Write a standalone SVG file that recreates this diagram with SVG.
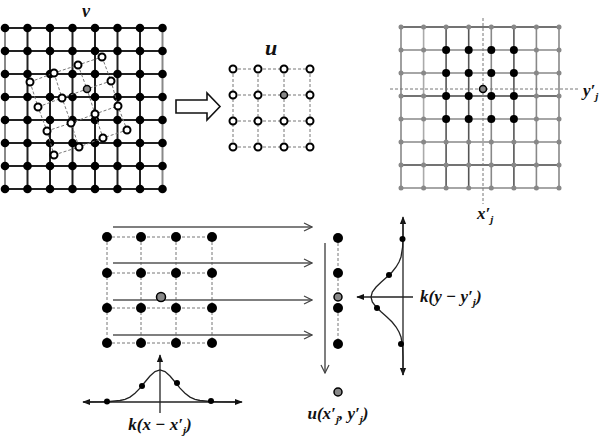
<svg xmlns="http://www.w3.org/2000/svg" width="600" height="439" viewBox="0 0 600 439">
<defs>
<style>
.lbl{font-family:"Liberation Serif","Times New Roman",serif;font-style:italic;font-weight:bold;fill:#111}
.g1 line{stroke:#222;stroke-width:2}
.dot{fill:#000}
.odot{fill:#fff;stroke:#000;stroke-width:2}
.gdot{fill:#888;stroke:#000;stroke-width:1.5}
.dash{stroke:#777;stroke-width:1;stroke-dasharray:3,2;fill:none}
.arr{stroke:#555;stroke-width:1.5;fill:none}
.ax{stroke:#222;stroke-width:1.3;fill:none}
</style>
<marker id="open" viewBox="0 0 10 10" refX="9" refY="5" markerWidth="10" markerHeight="10" markerUnits="userSpaceOnUse" orient="auto">
<path d="M1,1 L9,5 L1,9" fill="none" stroke="#444" stroke-width="1.2"/>
</marker>
<marker id="tri" viewBox="0 0 10 10" refX="9" refY="5" markerWidth="8" markerHeight="8" markerUnits="userSpaceOnUse" orient="auto">
<path d="M0,1 L10,5 L0,9 Z" fill="#111"/>
</marker>
<marker id="tris" viewBox="0 0 10 10" refX="1" refY="5" markerWidth="8" markerHeight="8" markerUnits="userSpaceOnUse" orient="auto">
<path d="M10,1 L0,5 L10,9 Z" fill="#111"/>
</marker>
</defs>
<rect width="600" height="439" fill="#fff"/>

<!-- Left grid v -->
<g id="gridV">
<g class="g1">
<line x1="5" y1="28" x2="162.5" y2="28"/><line x1="5" y1="51" x2="162.5" y2="51"/><line x1="5" y1="74" x2="162.5" y2="74"/><line x1="5" y1="97" x2="162.5" y2="97"/>
<line x1="5" y1="120" x2="162.5" y2="120"/><line x1="5" y1="143" x2="162.5" y2="143"/><line x1="5" y1="166" x2="162.5" y2="166"/><line x1="5" y1="189" x2="162.5" y2="189"/>
<line x1="5" y1="28" x2="5" y2="189" style="stroke:#888"/><line x1="27.5" y1="28" x2="27.5" y2="189"/><line x1="50" y1="28" x2="50" y2="189"/><line x1="72.5" y1="28" x2="72.5" y2="189"/>
<line x1="95" y1="28" x2="95" y2="189"/><line x1="117.5" y1="28" x2="117.5" y2="189"/><line x1="140" y1="28" x2="140" y2="189"/><line x1="162.5" y1="28" x2="162.5" y2="189" style="stroke:#888"/>
</g>
<g class="dot">
<circle cx="5" cy="28" r="4.3"/><circle cx="27.5" cy="28" r="4.3"/><circle cx="50" cy="28" r="4.3"/><circle cx="72.5" cy="28" r="4.3"/><circle cx="95" cy="28" r="4.3"/><circle cx="117.5" cy="28" r="4.3"/><circle cx="140" cy="28" r="4.3"/><circle cx="162.5" cy="28" r="4.3"/>
<circle cx="5" cy="51" r="4.3"/><circle cx="27.5" cy="51" r="4.3"/><circle cx="50" cy="51" r="4.3"/><circle cx="72.5" cy="51" r="4.3"/><circle cx="95" cy="51" r="4.3"/><circle cx="117.5" cy="51" r="4.3"/><circle cx="140" cy="51" r="4.3"/><circle cx="162.5" cy="51" r="4.3"/>
<circle cx="5" cy="74" r="4.3"/><circle cx="27.5" cy="74" r="4.3"/><circle cx="50" cy="74" r="4.3"/><circle cx="72.5" cy="74" r="4.3"/><circle cx="95" cy="74" r="4.3"/><circle cx="117.5" cy="74" r="4.3"/><circle cx="140" cy="74" r="4.3"/><circle cx="162.5" cy="74" r="4.3"/>
<circle cx="5" cy="97" r="4.3"/><circle cx="27.5" cy="97" r="4.3"/><circle cx="50" cy="97" r="4.3"/><circle cx="72.5" cy="97" r="4.3"/><circle cx="95" cy="97" r="4.3"/><circle cx="117.5" cy="97" r="4.3"/><circle cx="140" cy="97" r="4.3"/><circle cx="162.5" cy="97" r="4.3"/>
<circle cx="5" cy="120" r="4.3"/><circle cx="27.5" cy="120" r="4.3"/><circle cx="50" cy="120" r="4.3"/><circle cx="72.5" cy="120" r="4.3"/><circle cx="95" cy="120" r="4.3"/><circle cx="117.5" cy="120" r="4.3"/><circle cx="140" cy="120" r="4.3"/><circle cx="162.5" cy="120" r="4.3"/>
<circle cx="5" cy="143" r="4.3"/><circle cx="27.5" cy="143" r="4.3"/><circle cx="50" cy="143" r="4.3"/><circle cx="72.5" cy="143" r="4.3"/><circle cx="95" cy="143" r="4.3"/><circle cx="117.5" cy="143" r="4.3"/><circle cx="140" cy="143" r="4.3"/><circle cx="162.5" cy="143" r="4.3"/>
<circle cx="5" cy="166" r="4.3"/><circle cx="27.5" cy="166" r="4.3"/><circle cx="50" cy="166" r="4.3"/><circle cx="72.5" cy="166" r="4.3"/><circle cx="95" cy="166" r="4.3"/><circle cx="117.5" cy="166" r="4.3"/><circle cx="140" cy="166" r="4.3"/><circle cx="162.5" cy="166" r="4.3"/>
<circle cx="5" cy="189" r="4.3"/><circle cx="27.5" cy="189" r="4.3"/><circle cx="50" cy="189" r="4.3"/><circle cx="72.5" cy="189" r="4.3"/><circle cx="95" cy="189" r="4.3"/><circle cx="117.5" cy="189" r="4.3"/><circle cx="140" cy="189" r="4.3"/><circle cx="162.5" cy="189" r="4.3"/>
</g>
<g class="dash">
<polyline points="30,82 54,73 78,65 102,57"/><polyline points="38,107 62,98 87,89 111,81"/><polyline points="47,131 71,123 95,114 118,106"/><polyline points="54,155 79,147 103,138 127,130"/>
<polyline points="30,82 38,107 47,131 54,155"/><polyline points="54,73 62,98 71,123 79,147"/><polyline points="78,65 87,89 95,114 103,138"/><polyline points="102,57 111,81 118,106 127,130"/>
</g>
<g class="odot">
<circle cx="30" cy="82" r="3.5"/><circle cx="54" cy="73" r="3.5"/><circle cx="78" cy="65" r="3.5"/><circle cx="102" cy="57" r="3.5"/>
<circle cx="38" cy="107" r="3.5"/><circle cx="62" cy="98" r="3.5"/><circle cx="111" cy="81" r="3.5"/>
<circle cx="47" cy="131" r="3.5"/><circle cx="71" cy="123" r="3.5"/><circle cx="95" cy="114" r="3.5"/><circle cx="118" cy="106" r="3.5"/>
<circle cx="54" cy="155" r="3.5"/><circle cx="79" cy="147" r="3.5"/><circle cx="103" cy="138" r="3.5"/><circle cx="127" cy="130" r="3.5"/>
</g>
<circle class="gdot" cx="87" cy="89" r="3.5"/>
<text class="lbl" x="86" y="17" font-size="18" text-anchor="middle">v</text>
</g>

<!-- Hollow arrow -->
<g id="bigArrow">
<polygon points="176,100 207,100 207,93 220,106.5 207,120 207,113 176,113" fill="#fff" stroke="#111" stroke-width="1.6"/>
</g>

<!-- u grid -->
<g id="gridU">
<g class="dash">
<polyline points="233,69 310,69"/><polyline points="233,95 310,95"/><polyline points="233,121 310,121"/><polyline points="233,147 310,147"/>
<polyline points="233,69 233,147"/><polyline points="258,69 258,147"/><polyline points="284,69 284,147"/><polyline points="310,69 310,147"/>
</g>
<g class="odot">
<circle cx="233" cy="69" r="3.5"/><circle cx="258" cy="69" r="3.5"/><circle cx="284" cy="69" r="3.5"/><circle cx="310" cy="69" r="3.5"/>
<circle cx="233" cy="95" r="3.5"/><circle cx="258" cy="95" r="3.5"/><circle cx="310" cy="95" r="3.5"/>
<circle cx="233" cy="121" r="3.5"/><circle cx="258" cy="121" r="3.5"/><circle cx="284" cy="121" r="3.5"/><circle cx="310" cy="121" r="3.5"/>
<circle cx="233" cy="147" r="3.5"/><circle cx="258" cy="147" r="3.5"/><circle cx="284" cy="147" r="3.5"/><circle cx="310" cy="147" r="3.5"/>
</g>
<circle class="gdot" cx="284" cy="95" r="3.5"/>
<text class="lbl" x="271" y="55" font-size="22" text-anchor="middle">u</text>
</g>

<!-- Right grid -->
<g id="gridR">
<g stroke="#888" stroke-width="1.6">
<line x1="401" y1="27" x2="559" y2="27" stroke="#444"/><line x1="401" y1="50" x2="559" y2="50"/><line x1="401" y1="73" x2="559" y2="73"/><line x1="401" y1="96" x2="559" y2="96" stroke="#444"/>
<line x1="401" y1="119" x2="559" y2="119"/><line x1="401" y1="142" x2="559" y2="142"/><line x1="401" y1="165" x2="559" y2="165" stroke="#444"/><line x1="401" y1="188" x2="559" y2="188"/>
<line x1="401" y1="27" x2="401" y2="188"/><line x1="423.6" y1="27" x2="423.6" y2="188" stroke="#aaa"/><line x1="446.1" y1="27" x2="446.1" y2="188" stroke="#555"/><line x1="468.7" y1="27" x2="468.7" y2="188" stroke="#555"/>
<line x1="491.3" y1="27" x2="491.3" y2="188"/><line x1="513.9" y1="27" x2="513.9" y2="188" stroke="#555"/><line x1="536.4" y1="27" x2="536.4" y2="188"/><line x1="559" y1="27" x2="559" y2="188"/>
</g>
<g fill="#888">
<circle cx="401" cy="27" r="2.5"/><circle cx="423.6" cy="27" r="2.5"/><circle cx="446.1" cy="27" r="2.5"/><circle cx="468.7" cy="27" r="2.5"/><circle cx="491.3" cy="27" r="2.5"/><circle cx="513.9" cy="27" r="2.5"/><circle cx="536.4" cy="27" r="2.5"/><circle cx="559" cy="27" r="2.5"/>
<circle cx="401" cy="50" r="2.5"/><circle cx="423.6" cy="50" r="2.5"/><circle cx="536.4" cy="50" r="2.5"/><circle cx="559" cy="50" r="2.5"/>
<circle cx="401" cy="73" r="2.5"/><circle cx="423.6" cy="73" r="2.5"/><circle cx="536.4" cy="73" r="2.5"/><circle cx="559" cy="73" r="2.5"/>
<circle cx="401" cy="96" r="2.5"/><circle cx="423.6" cy="96" r="2.5"/><circle cx="536.4" cy="96" r="2.5"/><circle cx="559" cy="96" r="2.5"/>
<circle cx="401" cy="119" r="2.5"/><circle cx="423.6" cy="119" r="2.5"/><circle cx="536.4" cy="119" r="2.5"/><circle cx="559" cy="119" r="2.5"/>
<circle cx="401" cy="142" r="2.5"/><circle cx="423.6" cy="142" r="2.5"/><circle cx="446.1" cy="142" r="2.5"/><circle cx="468.7" cy="142" r="2.5"/><circle cx="491.3" cy="142" r="2.5"/><circle cx="513.9" cy="142" r="2.5"/><circle cx="536.4" cy="142" r="2.5"/><circle cx="559" cy="142" r="2.5"/>
<circle cx="401" cy="165" r="2.5"/><circle cx="423.6" cy="165" r="2.5"/><circle cx="446.1" cy="165" r="2.5"/><circle cx="468.7" cy="165" r="2.5"/><circle cx="491.3" cy="165" r="2.5"/><circle cx="513.9" cy="165" r="2.5"/><circle cx="536.4" cy="165" r="2.5"/><circle cx="559" cy="165" r="2.5"/>
<circle cx="401" cy="188" r="2.5"/><circle cx="423.6" cy="188" r="2.5"/><circle cx="446.1" cy="188" r="2.5"/><circle cx="468.7" cy="188" r="2.5"/><circle cx="491.3" cy="188" r="2.5"/><circle cx="513.9" cy="188" r="2.5"/><circle cx="536.4" cy="188" r="2.5"/><circle cx="559" cy="188" r="2.5"/>
</g>
<g class="dot">
<circle cx="446.1" cy="50" r="4"/><circle cx="468.7" cy="50" r="4"/><circle cx="491.3" cy="50" r="4"/><circle cx="513.9" cy="50" r="4"/>
<circle cx="446.1" cy="73" r="4"/><circle cx="468.7" cy="73" r="4"/><circle cx="491.3" cy="73" r="4"/><circle cx="513.9" cy="73" r="4"/>
<circle cx="446.1" cy="96" r="4"/><circle cx="468.7" cy="96" r="4"/><circle cx="491.3" cy="96" r="4"/><circle cx="513.9" cy="96" r="4"/>
<circle cx="446.1" cy="119" r="4"/><circle cx="468.7" cy="119" r="4"/><circle cx="491.3" cy="119" r="4"/><circle cx="513.9" cy="119" r="4"/>
</g>
<line class="dash" x1="483" y1="18" x2="483" y2="204"/>
<line class="dash" x1="390" y1="89" x2="580" y2="89"/>
<circle class="gdot" cx="483" cy="89" r="3.5"/>
<text class="lbl" x="583" y="96" font-size="17">y′<tspan font-size="11" dy="4">j</tspan></text>
<text class="lbl" x="477" y="219" font-size="17">x′<tspan font-size="11" dy="4">j</tspan></text>
</g>

<!-- Bottom grid -->
<g id="gridB">
<g class="dash">
<polyline points="107,237 212,237"/><polyline points="107,273 212,273"/><polyline points="107,308 212,308"/><polyline points="107,343 212,343"/>
<polyline points="107,237 107,343"/><polyline points="141,237 141,343"/><polyline points="176,237 176,343"/><polyline points="212,237 212,343"/>
</g>
<g class="dot">
<circle cx="107" cy="237" r="5"/><circle cx="141" cy="237" r="5"/><circle cx="176" cy="237" r="5"/><circle cx="212" cy="237" r="5"/>
<circle cx="107" cy="273" r="5"/><circle cx="141" cy="273" r="5"/><circle cx="176" cy="273" r="5"/><circle cx="212" cy="273" r="5"/>
<circle cx="107" cy="308" r="5"/><circle cx="141" cy="308" r="5"/><circle cx="176" cy="308" r="5"/><circle cx="212" cy="308" r="5"/>
<circle cx="107" cy="343" r="5"/><circle cx="141" cy="343" r="5"/><circle cx="176" cy="343" r="5"/><circle cx="212" cy="343" r="5"/>
</g>
</g>

<!-- connectors -->
<g id="connectors">
<line class="arr" x1="113" y1="227" x2="312" y2="227" marker-end="url(#open)"/>
<line class="arr" x1="113" y1="263" x2="312" y2="263" marker-end="url(#open)"/>
<line class="arr" x1="113" y1="300" x2="312" y2="300" marker-end="url(#open)"/>
<line class="arr" x1="113" y1="335" x2="312" y2="335" marker-end="url(#open)"/>
<line class="arr" x1="325" y1="243" x2="325" y2="373" marker-end="url(#open)"/>
</g>
<circle class="gdot" cx="161" cy="297" r="4.5"/>

<!-- column -->
<g id="column">
<line class="dash" x1="338" y1="238" x2="338" y2="344"/>
<g class="dot">
<circle cx="338" cy="238" r="5"/><circle cx="338" cy="273" r="5"/><circle cx="338" cy="308" r="5"/><circle cx="338" cy="344" r="5"/>
</g>
<circle class="gdot" cx="338" cy="297" r="4"/>
<circle class="gdot" cx="338" cy="392" r="4"/>
<text class="lbl" x="338" y="419" font-size="17" text-anchor="middle">u(x′<tspan font-size="11" dy="4">j</tspan><tspan dy="-4">, y′</tspan><tspan font-size="11" dy="4">j</tspan><tspan dy="-4">)</tspan></text>
</g>

<!-- right kernel -->
<g id="kernelY">
<line class="ax" x1="403" y1="375" x2="403" y2="217" marker-start="url(#tris)" marker-end="url(#tri)"/>
<polyline class="ax" points="403,220 403,237 402.6,247 401,257 399,262 396.1,267 392.1,272 386.9,277 381.3,282 376.1,287 372.3,292 371,297 372.3,302 376.1,307 381.3,312 386.9,317 392.1,322 396.1,327 399,332 401,337 402.6,347 403,357 403,375"/>
<line class="ax" x1="413" y1="297" x2="357" y2="297" marker-end="url(#tri)"/>
<g class="dot">
<circle cx="402.5" cy="239" r="3"/><circle cx="389" cy="275" r="3"/><circle cx="377" cy="308" r="3"/><circle cx="401" cy="344" r="3"/>
</g>
<text class="lbl" x="420" y="302" font-size="17">k(y − y′<tspan font-size="11" dy="4">j</tspan><tspan dy="-4">)</tspan></text>
</g>

<!-- bottom kernel -->
<g id="kernelX">
<line class="ax" x1="83" y1="402" x2="242" y2="402" marker-start="url(#tris)" marker-end="url(#tri)"/>
<line class="ax" x1="160" y1="413" x2="160" y2="355" marker-end="url(#tri)"/>
<polyline class="ax" points="85,402 100,401.8 110,401.5 120,400.5 125,399.3 130,397.1 135,393.3 140,388.1 145,382 150,376 155,371.6 160,370 165,371.6 170,376 175,382 180,388.1 185,393.3 190,397.1 195,399.3 200,400.5 210,401.5 220,401.8 235,402"/>
<g class="dot">
<circle cx="107" cy="401.5" r="3"/><circle cx="142" cy="386" r="3"/><circle cx="177" cy="383" r="3"/><circle cx="211" cy="401" r="3"/>
</g>
<text class="lbl" x="160" y="430" font-size="17" text-anchor="middle">k(x − x′<tspan font-size="11" dy="4">j</tspan><tspan dy="-4">)</tspan></text>
</g>
</svg>
